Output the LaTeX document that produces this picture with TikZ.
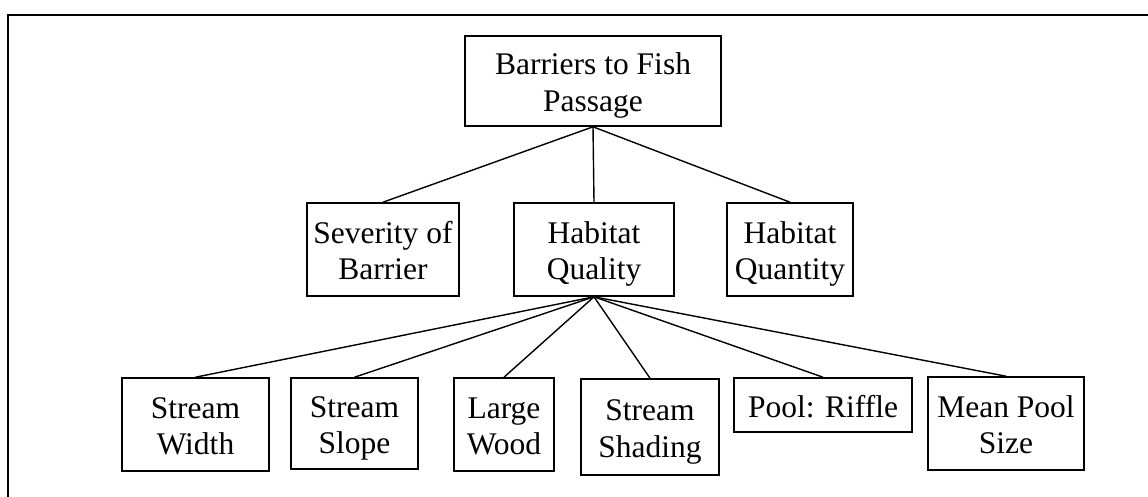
\documentclass[tikz,border=0pt]{standalone}
\usepackage{fontspec}
\setmainfont{Liberation Serif}
\begin{document}
\begin{tikzpicture}[x=1pt,y=-1pt,
  box/.style={draw, line width=1.6pt, inner sep=0pt, align=center,
    text height=60.5pt, text depth=0pt,
    font=\fontsize{31.5pt}{36.5pt}\selectfont},
  oneline/.style={text height=24pt},
  link/.style={line width=1.4pt}]
\useasboundingbox (0,0) rectangle (1148,496);
\clip (0,0) rectangle (1148,496);
\fill[white] (0,0) rectangle (1148,496);
% frame running off the right and bottom edges
\draw[line width=2.2pt] (8,520) -- (8,15) -- (1170,15);

% root
\node[box, minimum width=256pt, minimum height=90pt] (root) at (593,81) {Barriers to Fish\\Passage};

% second level
\node[box, minimum width=152pt, minimum height=93pt] (sev)  at (383,249.5) {Severity of\\Barrier};
\node[box, minimum width=160pt, minimum height=93pt] (qual) at (594,249.5) {Habitat\\Quality};
\node[box, minimum width=126pt, minimum height=93pt] (quan) at (790,249.5) {Habitat\\Quantity};

% third level
\node[box, minimum width=147pt, minimum height=93pt] (width)  at (195.5,424.5) {Stream\\Width};
\node[box, minimum width=127pt, minimum height=91pt] (slope)  at (354.5,423.5) {Stream\\Slope};
\node[box, minimum width=100pt, minimum height=93pt] (wood)   at (504,424.5) {Large\\Wood};
\node[box, minimum width=138pt, minimum height=96pt] (shade)  at (650,427) {Stream\\Shading};
\node[box, oneline, minimum width=178pt, minimum height=54pt] (riffle) at (823,405) {Pool: Riffle};
\node[box, minimum width=156pt, minimum height=93pt] (pool)   at (1006,423.5) {Mean Pool\\Size};

% connectors
\foreach \c in {sev,qual,quan} \draw[link] (root.south) -- (\c.north);
\foreach \c in {width,slope,wood,shade,riffle,pool} \draw[link] (qual.south) -- (\c.north);
\end{tikzpicture}
\end{document}
